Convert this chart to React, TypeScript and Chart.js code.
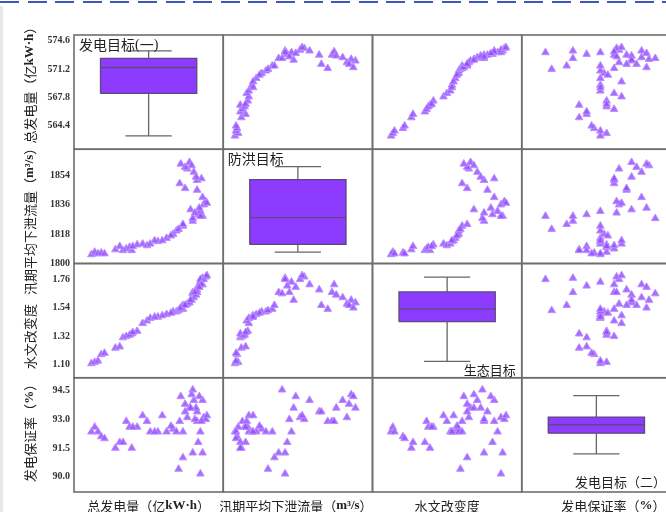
import React, { useEffect, useRef } from 'react';
import { Chart, registerables } from 'chart.js';

Chart.register(...registerables);

// ---------------- data ----------------
const GEN = [563.2, 563.5, 563.8, 564.1, 564.4, 565.4, 565.8, 566.1, 566.9, 566.4, 566.7, 567.4, 567.9, 568.3, 568.6, 569.3, 570.1, 570.7, 571.0, 571.6, 569.7, 570.5, 571.6, 571.2, 572.5, 573.4, 573.0, 573.2, 573.2, 572.5, 573.5, 573.7, 573.8, 573.4, 572.9, 571.3, 572.9, 573.3, 572.0, 572.2, 572.4, 572.6, 572.8, 571.8, 571.4, 571.8, 572.3, 573.1, 572.7, 567.0, 569.0];
const FLOW = [1805.5, 1807.0, 1806.0, 1806.5, 1806.0, 1808.5, 1810.5, 1808.0, 1808.0, 1809.0, 1810.0, 1811.5, 1812.0, 1811.0, 1812.0, 1813.5, 1815.5, 1818.0, 1820.0, 1823.0, 1814.0, 1817.0, 1824.0, 1821.0, 1826.0, 1829.0, 1830.0, 1832.0, 1829.0, 1827.6, 1836.0, 1838.0, 1837.0, 1840.5, 1845.0, 1849.0, 1851.0, 1852.0, 1858.0, 1862.0, 1860.0, 1856.0, 1853.0, 1859.0, 1861.0, 1846.0, 1833.0, 1834.0, 1831.0, 1810.5, 1814.0];
const HYDRO = [1.11, 1.12, 1.13, 1.18, 1.19, 1.23, 1.24, 1.31, 1.34, 1.32, 1.33, 1.36, 1.42, 1.44, 1.46, 1.47, 1.49, 1.51, 1.51, 1.53, 1.48, 1.50, 1.56, 1.52, 1.66, 1.77, 1.71, 1.74, 1.76, 1.65, 1.76, 1.78, 1.79, 1.72, 1.68, 1.53, 1.66, 1.72, 1.57, 1.58, 1.60, 1.62, 1.64, 1.56, 1.54, 1.56, 1.60, 1.70, 1.66, 1.35, 1.47];
const GUAR = [92.35, 92.6, 92.35, 92.1, 92.0, 91.5, 91.8, 91.8, 91.5, 92.9, 92.6, 92.6, 93.2, 92.9, 92.35, 92.35, 92.35, 92.5, 92.35, 92.35, 93.2, 92.65, 91.0, 90.4, 91.25, 91.25, 91.8, 92.35, 90.15, 94.55, 93.1, 93.0, 93.2, 94.0, 93.4, 92.9, 92.9, 92.9, 93.1, 93.6, 94.3, 94.0, 93.6, 93.8, 94.2, 93.4, 93.6, 94.2, 93.0, 92.6, 92.35];

const VAR_MIN = [561.6, 1800, 1.0, 89.2];
const VAR_MAX = [575.3, 1870, 1.883, 95.18];

const TICKS_GEN = [564.4, 567.8, 571.2, 574.6];
const TICKS_FLOW = [1800, 1818, 1836, 1854];
const TICKS_HYDRO = [1.10, 1.32, 1.54, 1.76];
const TICKS_GUAR = [90.0, 91.5, 93.0, 94.5];
const TICK_DECIMALS = [1, 0, 2, 1];

// box-plot statistics (min whisker, Q1, median, Q3, max whisker)
const BOX_LOW = [563.2, 1807.0, 1.127, 91.2];
const BOX_Q1 = [568.3, 1811.7, 1.433, 92.28];
const BOX_MED = [571.4, 1828.1, 1.531, 92.72];
const BOX_Q3 = [572.5, 1851.4, 1.663, 93.12];
const BOX_HIGH = [573.4, 1859.4, 1.778, 94.24];

const VAR_TITLES = ['总发电量（亿kW·h）', '汛期平均下泄流量（m³/s）', '水文改变度', '发电保证率（%）'];
const DIAG_LABELS = ['发电目标(一)', '防洪目标', '生态目标', '发电目标（二）'];

// ---------------- styling ----------------
const CJK_FONT = '"Noto Sans CJK SC", "Noto Sans", sans-serif';
const LATIN_FONT = '"Liberation Serif", "DejaVu Serif", serif';
const POINT_FILL = 'rgba(150, 75, 255, 0.82)';
const POINT_EDGE = 'rgba(185, 145, 255, 1)';
const BOX_FILL = '#8d3cff';
const BOX_EDGE = '#5c4a78';
const WHISKER = '#666666';
const FRAME = '#6e6e6e';
const TEXT = '#222222';

const VARS = [GEN, FLOW, HYDRO, GUAR];
const TICKS = [TICKS_GEN, TICKS_FLOW, TICKS_HYDRO, TICKS_GUAR];

function drawMixed(ctx: CanvasRenderingContext2D, text: string, x: number, y: number, size: number, align: string, latinBold: boolean) {
  const parts: { latin: boolean; t: string; w: number }[] = [];
  let cur: any = null;
  for (const ch of text) {
    const latin = /[\u0000-\u007f\u00b7\u00b3]/.test(ch);
    if (!cur || cur.latin !== latin) {
      cur = { latin, t: '', w: 0 };
      parts.push(cur);
    }
    cur.t += ch;
  }
  const fontFor = (p: any) => (p.latin ? `${latinBold ? 'bold ' : ''}${size}px ${LATIN_FONT}` : `${size}px ${CJK_FONT}`);
  let total = 0;
  for (const p of parts) {
    ctx.font = fontFor(p);
    p.w = ctx.measureText(p.t).width;
    total += p.w;
  }
  let sx = align === 'center' ? x - total / 2 : align === 'right' ? x - total : x;
  ctx.textAlign = 'left';
  for (const p of parts) {
    ctx.font = fontFor(p);
    ctx.fillText(p.t, sx, y);
    sx += p.w;
  }
}

const decorPlugin = {
  id: 'matrixDecor',
  afterDraw(chart: any) {
    const ctx: CanvasRenderingContext2D = chart.ctx;
    const xs = [0, 1, 2, 3].map((i) => chart.scales['x' + i]);
    const ys = [0, 1, 2, 3].map((i) => chart.scales['y' + i]);
    ctx.save();
    // cell frames
    ctx.strokeStyle = FRAME;
    ctx.lineWidth = 1.6;
    for (let r = 0; r < 4; r++) {
      for (let c = 0; c < 4; c++) {
        ctx.strokeRect(xs[c].left, ys[r].top, xs[c].right - xs[c].left, ys[r].bottom - ys[r].top);
      }
    }
    ctx.fillStyle = TEXT;
    // row titles (rotated)
    const rowShift = [-10, 12, 16, -5];
    for (let r = 0; r < 4; r++) {
      const cy = (ys[r].top + ys[r].bottom) / 2 + rowShift[r];
      ctx.save();
      ctx.translate(30, cy);
      ctx.rotate(-Math.PI / 2);
      ctx.textBaseline = 'middle';
      drawMixed(ctx, VAR_TITLES[r], 0, 0, 13, 'center', true);
      ctx.restore();
    }
    // column titles
    const colShift = [0, -2, 0, 17];
    for (let c = 0; c < 4; c++) {
      const cx = (xs[c].left + xs[c].right) / 2 + colShift[c];
      ctx.textBaseline = 'middle';
      drawMixed(ctx, VAR_TITLES[c], cx, 506, 13, 'center', true);
    }
    // diagonal labels
    ctx.textBaseline = 'top';
    drawMixed(ctx, DIAG_LABELS[0], xs[0].left + 5, ys[0].top + 3, 14, 'left', false);
    drawMixed(ctx, DIAG_LABELS[1], xs[1].left + 4.5, ys[1].top + 2, 14, 'left', false);
    ctx.textBaseline = 'bottom';
    drawMixed(ctx, DIAG_LABELS[2], xs[2].right - 6, ys[2].bottom - 1, 13, 'right', false);
    drawMixed(ctx, DIAG_LABELS[3], xs[3].right - 5, ys[3].bottom - 3, 13, 'right', false);
    ctx.restore();
  },
};

function buildDatasets() {
  const ds: any[] = [];
  for (let i = 0; i < 4; i++) {
    const cx = (VAR_MIN[i] + VAR_MAX[i]) / 2;
    const span = VAR_MAX[i] - VAR_MIN[i];
    const bw = 0.3225 * span;
    const cw = 0.155 * span;
    const common = { type: 'line', xAxisID: 'x' + i, yAxisID: 'y' + i, pointRadius: 0, fill: false, tension: 0 };
    ds.push({ ...common, label: 'median' + i, data: [{ x: cx - bw, y: BOX_MED[i] }, { x: cx + bw, y: BOX_MED[i] }], borderColor: BOX_EDGE, borderWidth: 1.3 });
    ds.push({
      ...common,
      label: 'box' + i,
      data: [
        { x: cx - bw, y: BOX_Q1[i] },
        { x: cx + bw, y: BOX_Q1[i] },
        { x: cx + bw, y: BOX_Q3[i] },
        { x: cx - bw, y: BOX_Q3[i] },
        { x: cx - bw, y: BOX_Q1[i] },
      ],
      fill: 'shape',
      backgroundColor: BOX_FILL,
      borderColor: BOX_EDGE,
      borderWidth: 1.3,
    });
    ds.push({ ...common, label: 'wu' + i, data: [{ x: cx, y: BOX_Q3[i] }, { x: cx, y: BOX_HIGH[i] }], borderColor: WHISKER, borderWidth: 1.3 });
    ds.push({ ...common, label: 'wl' + i, data: [{ x: cx, y: BOX_LOW[i] }, { x: cx, y: BOX_Q1[i] }], borderColor: WHISKER, borderWidth: 1.3 });
    ds.push({ ...common, label: 'cu' + i, data: [{ x: cx - cw, y: BOX_HIGH[i] }, { x: cx + cw, y: BOX_HIGH[i] }], borderColor: WHISKER, borderWidth: 1.3 });
    ds.push({ ...common, label: 'cl' + i, data: [{ x: cx - cw, y: BOX_LOW[i] }, { x: cx + cw, y: BOX_LOW[i] }], borderColor: WHISKER, borderWidth: 1.3 });
  }
  for (let r = 0; r < 4; r++) {
    for (let c = 0; c < 4; c++) {
      if (r === c) continue;
      ds.push({
        type: 'scatter',
        label: `r${r}c${c}`,
        xAxisID: 'x' + c,
        yAxisID: 'y' + r,
        data: VARS[c].map((v, k) => ({ x: v, y: VARS[r][k] })),
        pointStyle: 'triangle',
        pointRadius: 4.4,
        backgroundColor: POINT_FILL,
        borderColor: POINT_EDGE,
        borderWidth: 1,
      });
    }
  }
  return ds;
}

function buildScales() {
  const scales: any = {};
  for (let i = 0; i < 4; i++) {
    const ticks = TICKS[i];
    const dec = TICK_DECIMALS[i];
    scales['y' + i] = {
      type: 'linear',
      position: 'left',
      stack: 'rows',
      stackWeight: 1,
      weight: 4 - i,
      min: VAR_MIN[i],
      max: VAR_MAX[i],
      afterBuildTicks: (axis: any) => {
        axis.ticks = ticks.map((v) => ({ value: v }));
      },
      afterFit: (axis: any) => {
        axis.width = 74;
      },
      ticks: {
        padding: 4,
        color: '#333',
        font: { family: LATIN_FONT, size: 10, weight: 'bold' },
        callback: (v: any) => Number(v).toFixed(dec),
      },
      grid: { display: false, drawTicks: false },
      border: { display: false },
    };
  }
  for (let i = 0; i < 4; i++) {
    scales['x' + i] = {
      type: 'linear',
      position: 'bottom',
      stack: 'cols',
      stackWeight: 1,
      weight: i + 1,
      min: VAR_MIN[i],
      max: VAR_MAX[i],
      afterFit: (axis: any) => {
        axis.height = 20;
      },
      ticks: { display: false },
      grid: { display: false, drawTicks: false },
      border: { display: false },
    };
  }
  return scales;
}

export default function App() {
  const ref = useRef<HTMLCanvasElement | null>(null);
  useEffect(() => {
    if (!ref.current) return;
    const chart = new Chart(ref.current, {
      type: 'scatter',
      data: { datasets: buildDatasets() },
      options: {
        responsive: false,
        animation: false,
        devicePixelRatio: 1,
        layout: { padding: { left: 0, top: 35, right: 9, bottom: 0 } },
        plugins: { legend: { display: false }, tooltip: { enabled: false } },
        scales: buildScales(),
      } as any,
      plugins: [decorPlugin],
    } as any);
    return () => chart.destroy();
  }, []);

  return (
    <div style={{ position: 'fixed', left: 0, top: 0, width: 666, height: 512, overflow: 'hidden', background: '#fff' }}>
      <div
        style={{
          position: 'absolute',
          left: 0,
          top: 1,
          width: 666,
          height: 2,
          background: 'repeating-linear-gradient(to right, #3f57b8 0px, #3f57b8 19px, transparent 19px, transparent 27.6px)',
        }}
      />
      <div style={{ position: 'absolute', left: 0, top: 6, width: 3, height: 506, background: '#e8e8ec' }} />
      <canvas ref={ref} width={680} height={512} style={{ position: 'absolute', left: 0, top: 0, width: 680, height: 512 }} />
    </div>
  );
}
